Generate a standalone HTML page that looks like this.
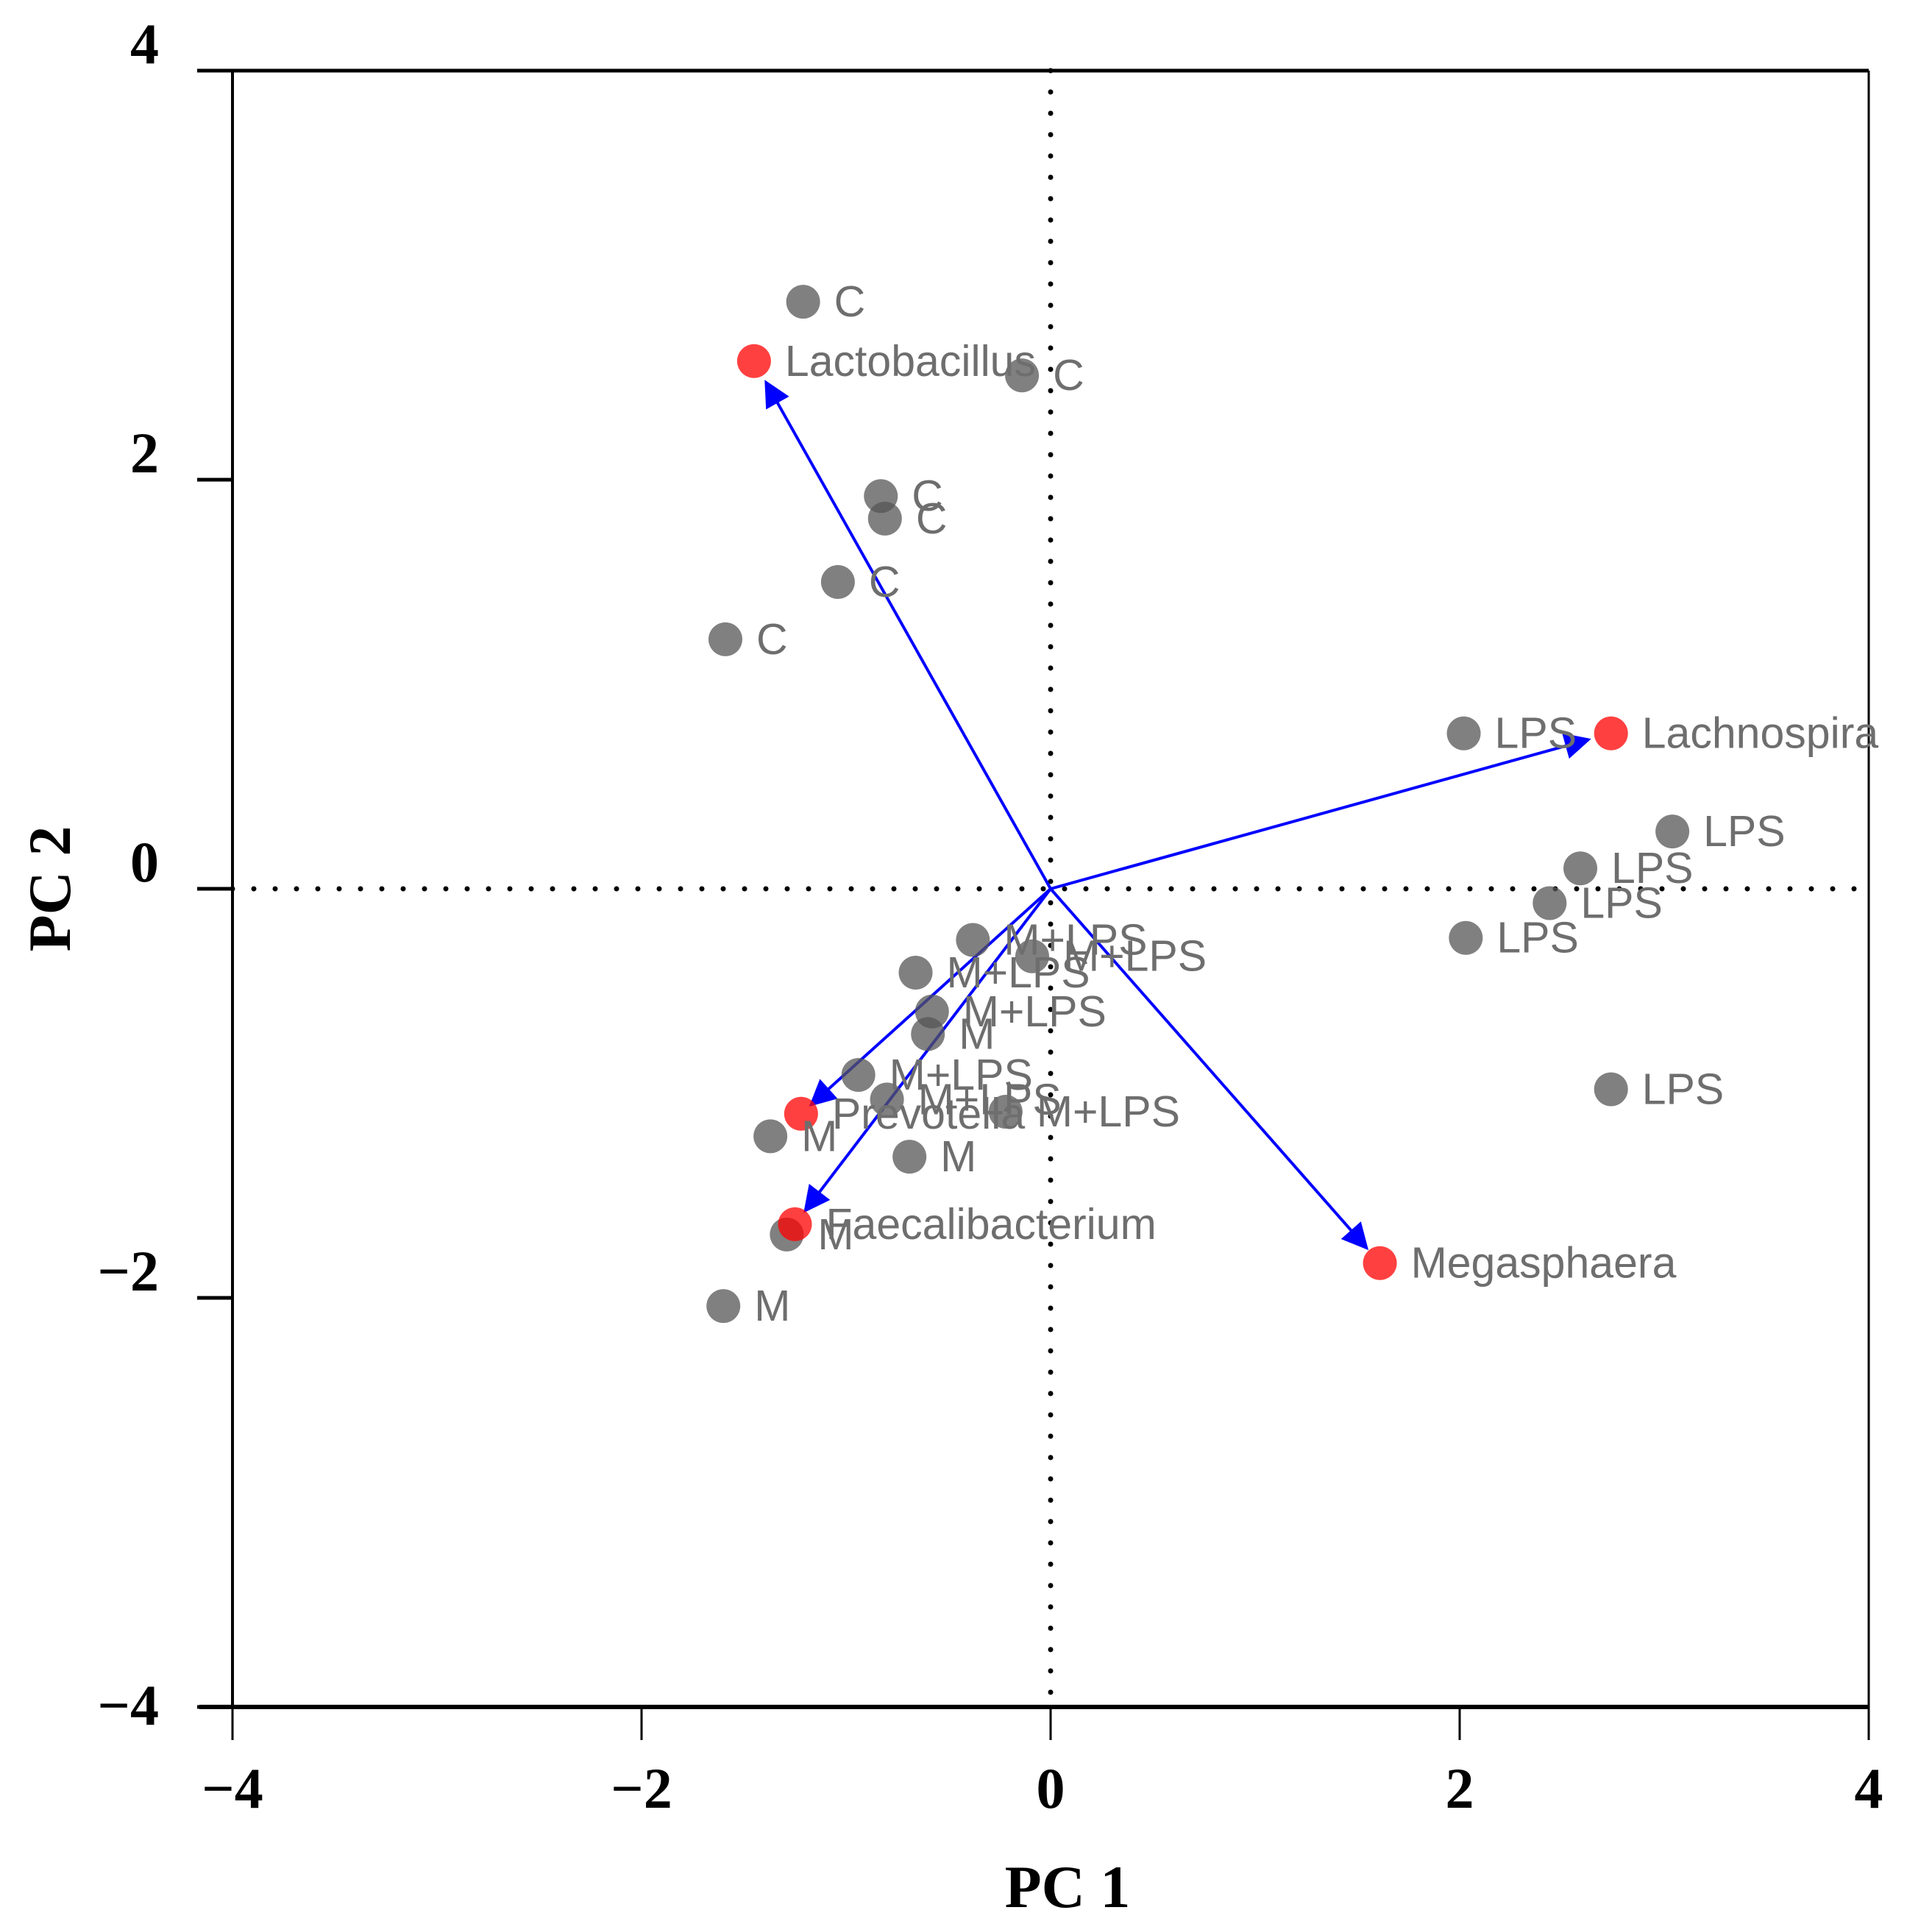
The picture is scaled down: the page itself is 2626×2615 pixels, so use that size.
<!DOCTYPE html>
<html><head><meta charset="utf-8"><style>
html,body{margin:0;padding:0;background:#fff;}
svg{display:block;}
.tick{font-family:"Liberation Serif",serif;font-weight:bold;font-size:78px;fill:#000;}
.ttl{font-family:"Liberation Serif",serif;font-weight:bold;font-size:82px;fill:#000;}
.lab{font-family:"Liberation Sans",sans-serif;font-size:59px;fill:#6e6e6e;}
</style></head><body>
<svg id="chart" width="2626" height="2615" viewBox="0 0 2626 2615" xmlns="http://www.w3.org/2000/svg">
<g id="grid"></g>
<g id="axes"></g>
<g id="arrows"></g>
<g id="points"></g>
<g id="loads"></g>
<g id="labels"></g>
<text class="ttl" x="1451" y="2592" text-anchor="middle">PC 1</text>
<text class="ttl" x="0" y="0" text-anchor="middle" transform="translate(95,1208) rotate(-90)">PC 2</text>
</svg>
<script>
const sampleGroups=["C","C","C","C","C","C","LPS","LPS","LPS","LPS","LPS","LPS","M+LPS","M+LPS","M+LPS","M+LPS","M","M+LPS","M+LPS","M+LPS","M","M","M","M"];
const sampleX=[-1.21,-0.14,-0.83,-0.81,-1.04,-1.59,2.02,3.04,2.59,2.44,2.03,2.74,-0.38,-0.09,-0.66,-0.58,-0.60,-0.94,-0.80,-0.22,-1.37,-0.69,-1.29,-1.60];
const sampleY=[2.87,2.51,1.92,1.81,1.50,1.22,0.76,0.28,0.10,-0.07,-0.24,-0.98,-0.25,-0.33,-0.41,-0.60,-0.71,-0.91,-1.03,-1.09,-1.21,-1.31,-1.69,-2.04];
const loadNames=["Lactobacillus","Lachnospira","Prevotella","Faecalibacterium","Megasphaera"];
const loadX=[-1.45,2.74,-1.22,-1.25,1.61];
const loadY=[2.58,0.76,-1.10,-1.64,-1.83];
const tickVals=[-4,-2,0,2,4];
const tickLabels=["\u22124","\u22122","0","2","4"];

const NS="http://www.w3.org/2000/svg";
const X0=316,X1=2540,Y0=96,Y1=2320;
const xs=v=>X0+(v+4)/8*(X1-X0);
const ys=v=>Y1-(v+4)/8*(Y1-Y0);
function mk(parent,tag,attrs){const e=document.createElementNS(NS,tag);for(const k in attrs)e.setAttribute(k,attrs[k]);document.getElementById(parent).appendChild(e);return e;}

let e=mk('grid','line',{x1:xs(0),y1:Y0,x2:xs(0),y2:Y1,stroke:'#000','stroke-width':7,'stroke-linecap':'round','stroke-dasharray':'0 29'});


e=mk('grid','line',{x1:X0,y1:ys(0),x2:X1,y2:ys(0),stroke:'#000','stroke-width':7,'stroke-linecap':'round','stroke-dasharray':'0 29'});



e=mk('axes','line',{x1:X0,y1:Y0-2,x2:X0,y2:Y1+2,stroke:'#000','stroke-width':4});


e=mk('axes','line',{x1:X1,y1:Y0,x2:X1,y2:Y1,stroke:'#000','stroke-width':3});


e=mk('axes','line',{x1:X0,y1:Y0,x2:X1,y2:Y0,stroke:'#000','stroke-width':5});


e=mk('axes','line',{x1:X0-45,y1:Y1,x2:X1,y2:Y1,stroke:'#000','stroke-width':6});



tickVals.forEach((v,i)=>{
  let t=mk('axes','line',{x1:xs(v),y1:Y1,x2:xs(v),y2:Y1+45,stroke:'#000','stroke-width':3});
  
  
  let l=mk('axes','text',{x:xs(v),y:2457,'text-anchor':'middle',class:'tick'});
  l.textContent=tickLabels[i];
  
  
  t=mk('axes','line',{x1:X0-48,y1:ys(v),x2:X0,y2:ys(v),stroke:'#000','stroke-width':5});
  
  
  l=mk('axes','text',{x:216,y:ys(v)+(v===-4?24:-10),'text-anchor':'end',class:'tick'});
  l.textContent=tickLabels[i];
  
  
});

mk('arrows','defs',{}).innerHTML='<marker id="ah" viewBox="0 0 10 10" refX="9" refY="5" markerWidth="10" markerHeight="9" markerUnits="strokeWidth" orient="auto"><path d="M0,0 L10,5 L0,10 z" fill="#0000ff"/></marker>';
loadX.forEach((v,i)=>{
  const a=mk('arrows','line',{x1:xs(0),y1:ys(0),x2:xs(0)+(xs(v)-xs(0))*0.96,y2:ys(0)+(ys(loadY[i])-ys(0))*0.96,stroke:'#0000ff','stroke-width':4,'marker-end':'url(#ah)'});
  
  
});

sampleX.forEach((v,i)=>{
  const c=mk('points','circle',{cx:xs(v),cy:ys(sampleY[i]),r:23,fill:'rgba(85,85,85,0.75)'});
  
  
  const t=mk('labels','text',{x:xs(v)+42,y:ys(sampleY[i])+20,class:'lab'});
  t.textContent=sampleGroups[i];
  
  
});
loadX.forEach((v,i)=>{
  const c=mk('loads','circle',{cx:xs(v),cy:ys(loadY[i]),r:23,fill:'rgba(255,0,0,0.75)'});
  
  
  const t=mk('labels','text',{x:xs(v)+42,y:ys(loadY[i])+20,class:'lab'});
  t.textContent=loadNames[i];
  
  
});
</script>
</body></html>
